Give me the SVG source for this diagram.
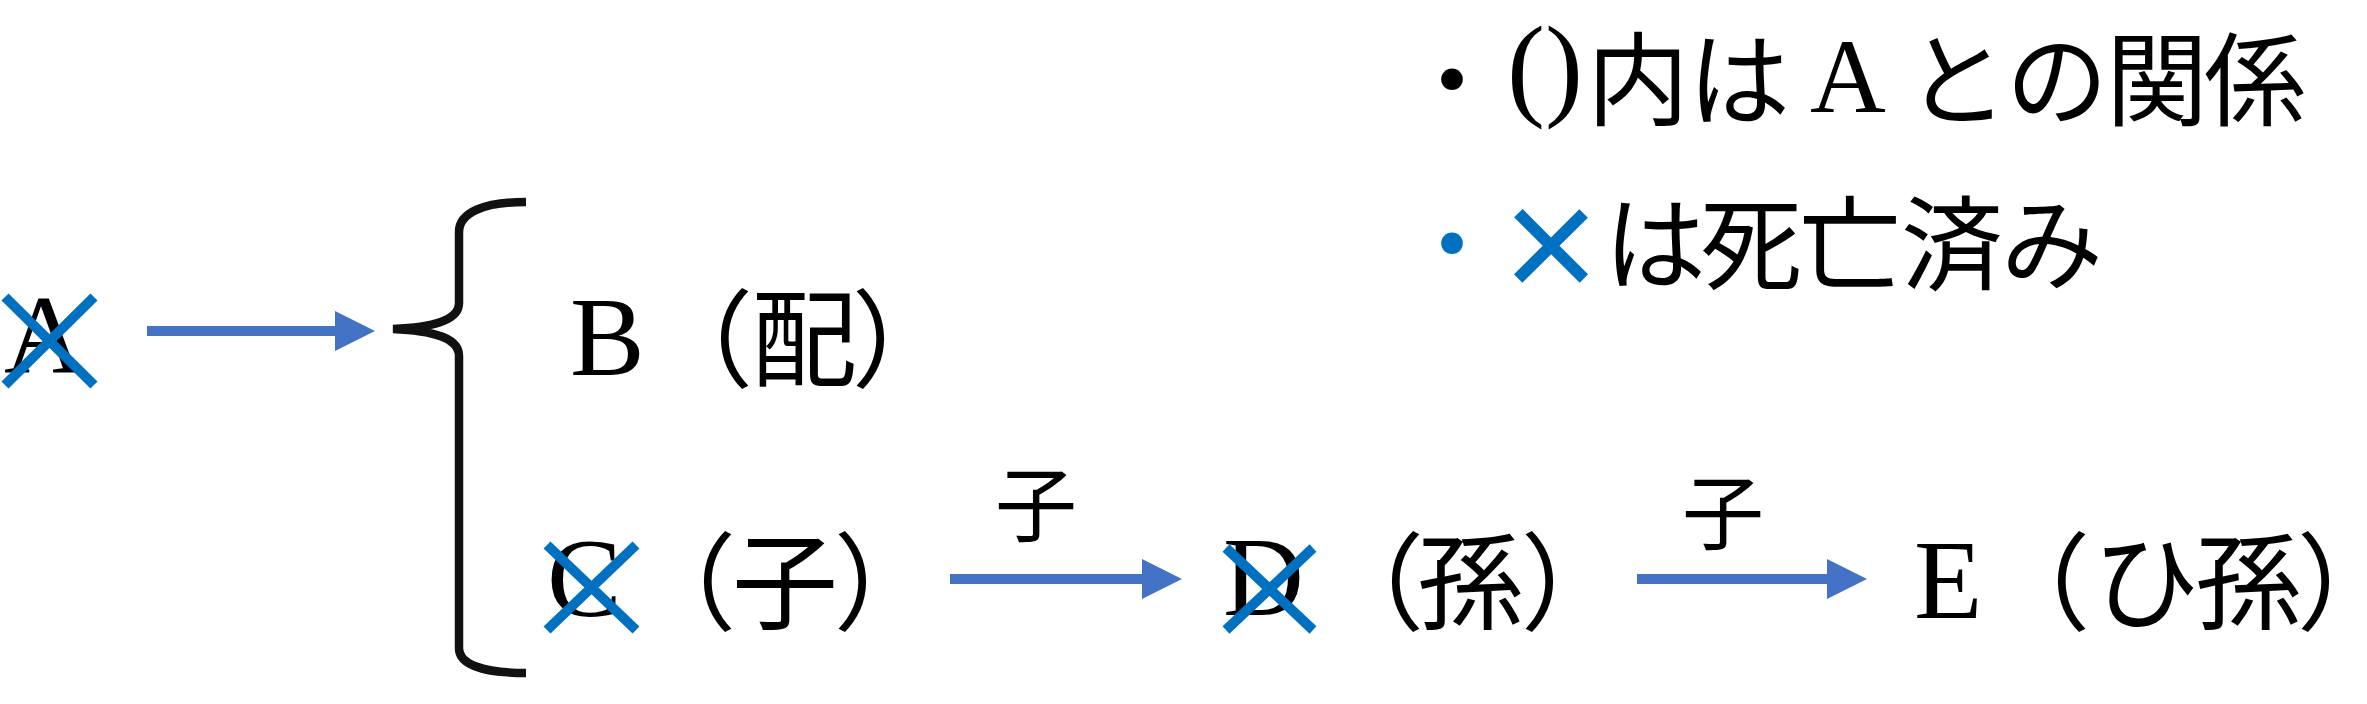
<svg xmlns="http://www.w3.org/2000/svg" width="2367" height="704" viewBox="0 0 2367 704">
<style>
.lat{font-family:"Liberation Serif","Times New Roman",serif;font-size:112px;fill:#000}
.cjk{font-family:"Noto Sans CJK JP","Noto Sans CJK SC",sans-serif;font-size:106px;fill:#000;text-anchor:middle;font-feature-settings:"palt" 1}
.lbl{font-family:"Noto Sans CJK JP","Noto Sans CJK SC",sans-serif;font-size:82px;fill:#000;text-anchor:middle}
.lg{font-family:"Noto Sans CJK JP","Noto Sans CJK SC",sans-serif;font-size:102px;fill:#000;text-anchor:middle}
.cross{stroke:#0070C0;stroke-width:10;stroke-linecap:butt;fill:none}
.arr{stroke:#4472C4;stroke-width:10;fill:none;marker-end:url(#ah)}
.brace{stroke:#111;stroke-width:8.5;fill:none}
</style>
<defs>
<marker id="ah" markerUnits="userSpaceOnUse" markerWidth="40" markerHeight="40" viewBox="0 0 40 40" refX="0" refY="20" orient="auto">
<path d="M0,0 L40,20 L0,40 Z" fill="#4472C4"/>
</marker>
</defs>
<rect width="2367" height="704" fill="#fff"/>

<g id="legend">
<text class="lg" y="118"><tspan x="1452">・</tspan><tspan x="1545" y="105" style="font-family:'Liberation Serif',serif;font-size:114px">()</tspan><tspan x="1638" y="118">内</tspan><tspan x="1739">は</tspan><tspan x="1848" y="112" style="font-family:'Liberation Serif',serif;font-size:105px">A</tspan><tspan x="1957" y="118">と</tspan><tspan x="2057">の</tspan><tspan x="2157">関</tspan><tspan x="2255">係</tspan></text>
<text class="lg" y="282"><tspan x="1452" style="fill:#0070C0">・</tspan><tspan x="1551" y="301" style="font-family:'Liberation Sans',sans-serif;font-size:166px;fill:#0070C0">×</tspan><tspan x="1655" y="282">は</tspan><tspan x="1751">死</tspan><tspan x="1850">亡</tspan><tspan x="1952">済</tspan><tspan x="2052">み</tspan></text>
</g>

<g id="nodeA">
<text class="lat" x="4" y="373">A</text>
<path class="cross" d="M5,297 L94,385 M94,297 L5,385"/>
</g>

<g id="brace">
<path class="brace" d="M526,202 C485,202 459,212 459,232 L459,303 C459,318 440,327 393,329 C440,331 459,340 459,356 L459,648 C459,665 485,673 526,673"/>
</g>

<g id="nodeB">
<text class="lat" x="570" y="375">B</text>
<text class="cjk" y="378"><tspan x="723">（</tspan><tspan x="804">配</tspan><tspan x="882">）</tspan></text>
</g>

<g id="nodeC">
<text class="lat" x="547" y="616">C</text>
<text class="cjk" y="621"><tspan x="706">（</tspan><tspan x="785">子</tspan><tspan x="864">）</tspan></text>
<path class="cross" d="M547,545 L636,630 M636,545 L547,630"/>
</g>

<g id="nodeD">
<text class="lat" x="1223" y="615">D</text>
<text class="cjk" y="621"><tspan x="1394">（</tspan><tspan x="1470">孫</tspan><tspan x="1551">）</tspan></text>
<path class="cross" d="M1226,548 L1313,630 M1313,548 L1226,630"/>
</g>

<g id="nodeE">
<text class="lat" x="1914" y="618">E</text>
<text class="cjk" y="621"><tspan x="2060">（</tspan><tspan x="2145">ひ</tspan><tspan x="2248">孫</tspan><tspan x="2327">）</tspan></text>
</g>

<g id="connectors">
<line class="arr" x1="147" y1="331" x2="335" y2="331"/>
<line class="arr" x1="950" y1="579" x2="1142" y2="579"/>
<line class="arr" x1="1637" y1="579" x2="1827" y2="579"/>
<text class="lbl" x="1036" y="535">子</text>
<text class="lbl" x="1723" y="543">子</text>
</g>
</svg>
